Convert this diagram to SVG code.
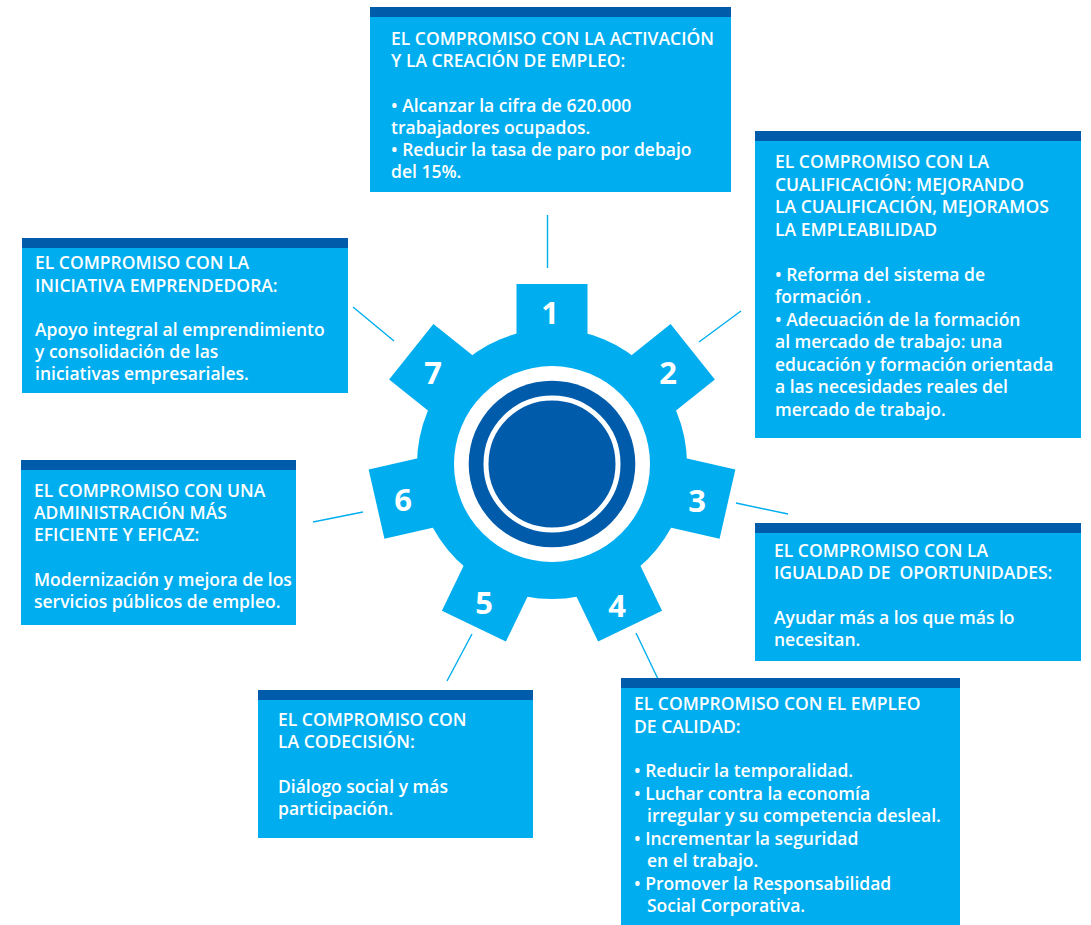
<svg xmlns="http://www.w3.org/2000/svg" width="1091" height="925" viewBox="0 0 1091 925">
<style>
.box{fill:#00AEEF}
.bar{fill:#005BAA}
.t{font-family:"Open Sans","Liberation Sans",sans-serif;font-size:17.5px;font-weight:600;fill:#ffffff;white-space:pre}
.num{font-family:"Open Sans","Liberation Sans",sans-serif;font-size:31px;font-weight:bold;fill:#ffffff;text-anchor:middle}
.con line{stroke:#00AEEF;stroke-width:1.4}
.tooth{fill:#00AEEF}
</style>
<rect width="1091" height="925" fill="#ffffff"/>
<g id="connectors" class="con">
<line x1="547.5" y1="215" x2="547.5" y2="268"/>
<line x1="699" y1="342" x2="741" y2="311"/>
<line x1="736" y1="503" x2="788" y2="514"/>
<line x1="636" y1="633" x2="658" y2="679"/>
<line x1="472" y1="634" x2="447" y2="681"/>
<line x1="313" y1="522" x2="363" y2="512"/>
<line x1="353" y1="307" x2="394" y2="341"/>
</g>
<g id="gear">
<g class="tooth">
<rect x="516.5" y="284" width="71" height="90" transform="rotate(0 552 464)"/>
<rect x="516.5" y="284" width="71" height="90" transform="rotate(51.4286 552 464)"/>
<rect x="516.5" y="284" width="71" height="90" transform="rotate(102.8571 552 464)"/>
<rect x="516.5" y="284" width="71" height="90" transform="rotate(154.2857 552 464)"/>
<rect x="516.5" y="284" width="71" height="90" transform="rotate(205.7143 552 464)"/>
<rect x="516.5" y="284" width="71" height="90" transform="rotate(257.1429 552 464)"/>
<rect x="516.5" y="284" width="71" height="90" transform="rotate(308.5714 552 464)"/>
</g>
<circle cx="552" cy="464" r="135" fill="#00AEEF"/>
<circle cx="552" cy="464" r="98" fill="#ffffff"/>
<circle cx="552" cy="464" r="83.3" fill="#005BAA"/>
<circle cx="552" cy="464" r="66" fill="none" stroke="#ffffff" stroke-width="5"/>
<text class="num" x="550" y="324">1</text>
<text class="num" x="668" y="384">2</text>
<text class="num" x="697" y="512">3</text>
<text class="num" x="617" y="617">4</text>
<text class="num" x="484" y="614">5</text>
<text class="num" x="403" y="511">6</text>
<text class="num" x="433" y="384">7</text>
</g>
<g id="box1">
<rect class="box" x="370" y="7" width="361" height="185"/>
<rect class="bar" x="370" y="7" width="361" height="10"/>
<text class="t"><tspan x="391" y="45">EL COMPROMISO CON LA ACTIVACIÓN</tspan><tspan x="391" y="67.2">Y LA CREACIÓN DE EMPLEO:</tspan><tspan x="391" y="111.6">• Alcanzar la cifra de 620.000</tspan><tspan x="391" y="133.8">trabajadores ocupados.</tspan><tspan x="391" y="156">• Reducir la tasa de paro por debajo</tspan><tspan x="391" y="178.2">del 15%.</tspan></text>
</g>
<g id="box2">
<rect class="box" x="755" y="131" width="326" height="307"/>
<rect class="bar" x="755" y="131" width="326" height="10"/>
<text class="t"><tspan x="775" y="168">EL COMPROMISO CON LA</tspan><tspan x="775" y="190.5">CUALIFICACIÓN: MEJORANDO</tspan><tspan x="775" y="213">LA CUALIFICACIÓN, MEJORAMOS</tspan><tspan x="775" y="235.5">LA EMPLEABILIDAD</tspan><tspan x="775" y="280.5">• Reforma del sistema de</tspan><tspan x="775" y="303">formación .</tspan><tspan x="775" y="325.5">• Adecuación de la formación</tspan><tspan x="775" y="348">al mercado de trabajo: una</tspan><tspan x="775" y="370.5">educación y formación orientada</tspan><tspan x="775" y="393">a las necesidades reales del</tspan><tspan x="775" y="415.5">mercado de trabajo.</tspan></text>
</g>
<g id="box3">
<rect class="box" x="755" y="523" width="326" height="138"/>
<rect class="bar" x="755" y="523" width="326" height="10"/>
<text class="t"><tspan x="774" y="557">EL COMPROMISO CON LA</tspan><tspan x="774" y="579">IGUALDAD DE  OPORTUNIDADES:</tspan><tspan x="774" y="624">Ayudar más a los que más lo</tspan><tspan x="774" y="646">necesitan.</tspan></text>
</g>
<g id="box4">
<rect class="box" x="621" y="678" width="339" height="247"/>
<rect class="bar" x="621" y="678" width="339" height="10"/>
<text class="t"><tspan x="634" y="710">EL COMPROMISO CON EL EMPLEO</tspan><tspan x="634" y="732.5">DE CALIDAD:</tspan><tspan x="634" y="777">• Reducir la temporalidad.</tspan><tspan x="634" y="799.5">• Luchar contra la economía</tspan><tspan x="647" y="822">irregular y su competencia desleal.</tspan><tspan x="634" y="844.5">• Incrementar la seguridad</tspan><tspan x="647" y="867">en el trabajo.</tspan><tspan x="634" y="889.5">• Promover la Responsabilidad</tspan><tspan x="647" y="912">Social Corporativa.</tspan></text>
</g>
<g id="box5">
<rect class="box" x="258" y="690" width="275" height="148"/>
<rect class="bar" x="258" y="690" width="275" height="10"/>
<text class="t"><tspan x="278" y="726">EL COMPROMISO CON</tspan><tspan x="278" y="748">LA CODECISIÓN:</tspan><tspan x="278" y="793">Diálogo social y más</tspan><tspan x="278" y="815">participación.</tspan></text>
</g>
<g id="box6">
<rect class="box" x="21" y="460" width="275" height="165"/>
<rect class="bar" x="21" y="460" width="275" height="10"/>
<text class="t"><tspan x="34" y="497">EL COMPROMISO CON UNA</tspan><tspan x="34" y="519">ADMINISTRACIÓN MÁS</tspan><tspan x="34" y="541">EFICIENTE Y EFICAZ:</tspan><tspan x="34" y="586">Modernización y mejora de los</tspan><tspan x="34" y="608">servicios públicos de empleo.</tspan></text>
</g>
<g id="box7">
<rect class="box" x="22" y="238" width="326" height="155"/>
<rect class="bar" x="22" y="238" width="326" height="10"/>
<text class="t"><tspan x="35" y="269">EL COMPROMISO CON LA</tspan><tspan x="35" y="291.5">INICIATIVA EMPRENDEDORA:</tspan><tspan x="35" y="336">Apoyo integral al emprendimiento</tspan><tspan x="35" y="358">y consolidación de las</tspan><tspan x="35" y="380">iniciativas empresariales.</tspan></text>
</g>
</svg>
